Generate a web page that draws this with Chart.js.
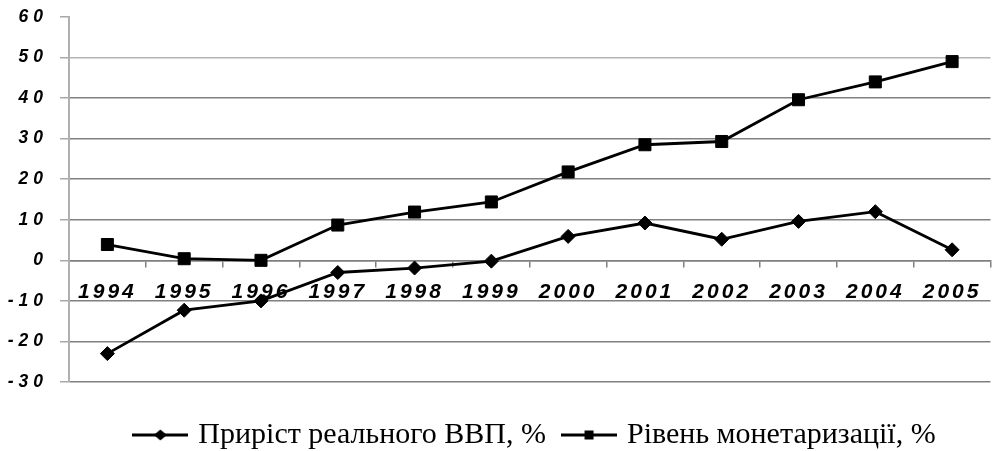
<!DOCTYPE html>
<html><head><meta charset="utf-8">
<script src="https://cdn.jsdelivr.net/npm/chart.js@4"></script>
<style>html,body{margin:0;padding:0;overflow:hidden;background:#fff}#wrap{width:1000px;height:451px}</style>
</head><body><div id="wrap"><canvas id="c" width="1000" height="451"></canvas></div>
<script>
const years = ['1994','1995','1996','1997','1998','1999','2000','2001','2002','2003','2004','2005'];
const gdpGrowth = [-23.0, -12.3, -10.0, -3.0, -1.9, -0.2, 5.9, 9.2, 5.2, 9.6, 12.0, 2.6];
const monetization = [3.9, 0.4, 0.0, 8.7, 11.9, 14.4, 21.8, 28.5, 29.3, 39.6, 44.0, 49.0];
const seriesLabels = ['Приріст реального ВВП, %', 'Рівень монетаризації, %'];
const yMin = -30, yMax = 60, yStep = 10;

function legendImg(shape){
  const c = document.createElement('canvas'); c.width = 56; c.height = 16;
  const g = c.getContext('2d');
  g.strokeStyle = '#000'; g.lineWidth = 2.8;
  g.beginPath(); g.moveTo(0, 8); g.lineTo(56, 8); g.stroke();
  g.fillStyle = '#000';
  if (shape === 'diamond') {
    g.beginPath(); g.moveTo(21.5, 8); g.lineTo(28, 2.5); g.lineTo(34.5, 8); g.lineTo(28, 13.5); g.closePath(); g.fill();
  } else {
    g.fillRect(23.5, 3.5, 9, 9);
  }
  return c;
}
const legendImgs = [legendImg('diamond'), legendImg('square')];

const letterSpacingPlugin = {
  id: 'ls',
  beforeDraw(chart){
    [['x','3px'],['y','5px']].forEach(([id, sp]) => {
      const s = chart.scales[id];
      if (!s || s.__ls) return;
      const orig = s.drawLabels;
      s.drawLabels = function(area){
        const ctx = this.ctx; ctx.save(); ctx.letterSpacing = sp; orig.call(this, area); ctx.restore();
      };
      s.__ls = true;
    });
  }
};
const legendShiftPlugin = {
  id: 'legendShift',
  afterLayout(chart){
    const l = chart.legend;
    if (l) { l.left += 37; l.right += 37; l.top += 18; l.bottom += 18; }
  }
};

new Chart(document.getElementById('c'), {
  type: 'line',
  data: {
    labels: years,
    datasets: [
      { label: seriesLabels[0], data: gdpGrowth, borderColor: '#000', backgroundColor: '#000', borderWidth: 2.8,
        pointStyle: 'rectRot', pointRadius: 7, pointBackgroundColor: '#000', pointBorderColor: '#000', pointBorderWidth: 1, tension: 0 },
      { label: seriesLabels[1], data: monetization, borderColor: '#000', backgroundColor: '#000', borderWidth: 2.8,
        pointStyle: 'rect', pointRadius: 8.5, pointBackgroundColor: '#000', pointBorderColor: '#000', pointBorderWidth: 1, tension: 0 }
    ]
  },
  options: {
    responsive: false, animation: false,
    layout: { padding: { top: 17, right: 1, left: 0, bottom: 9 } },
    plugins: {
      tooltip: { enabled: false },
      legend: {
        position: 'bottom',
        labels: {
          usePointStyle: true, pointStyleWidth: 46, padding: 20, color: '#000',
          font: { family: 'Liberation Serif', size: 30 },
          generateLabels(chart){
            const items = Chart.defaults.plugins.legend.labels.generateLabels(chart);
            items.forEach((it, i) => { it.pointStyle = legendImgs[i]; });
            return items;
          }
        }
      }
    },
    scales: {
      x: {
        type: 'category', position: { y: 0 }, offset: true,
        afterFit(s){ s.paddingTop = 0; s.paddingBottom = 0; },
        grid: { offset: true, drawOnChartArea: false, drawTicks: true, tickLength: 6, tickColor: '#808080', lineWidth: 1.5 },
        border: { color: '#808080', width: 1.5 },
        ticks: { color: '#000', padding: 13, maxRotation: 0, autoSkip: false,
          font: { family: 'Liberation Sans', size: 21, style: 'italic', weight: 'bold' } }
      },
      y: {
        min: yMin, max: yMax,
        afterFit(s){ s.width = 69; s.paddingTop = 0; s.paddingBottom = 0; },
        ticks: { stepSize: yStep, color: '#000', padding: 12,
          font: { family: 'Liberation Sans', size: 17.5, style: 'italic', weight: 'bold' } },
        grid: {
          color: ctx => (ctx.tick && ctx.tick.value === 60) ? 'rgba(0,0,0,0)' : (ctx.tick && ctx.tick.value === 50) ? '#b4b4b4' : '#808080',
          lineWidth: 1.5, tickLength: 9, tickColor: '#a8a8a8', drawTicks: true
        },
        border: { color: '#b0b0b0', width: 2 }
      }
    }
  },
  plugins: [letterSpacingPlugin, legendShiftPlugin]
});
</script>
</body></html>
